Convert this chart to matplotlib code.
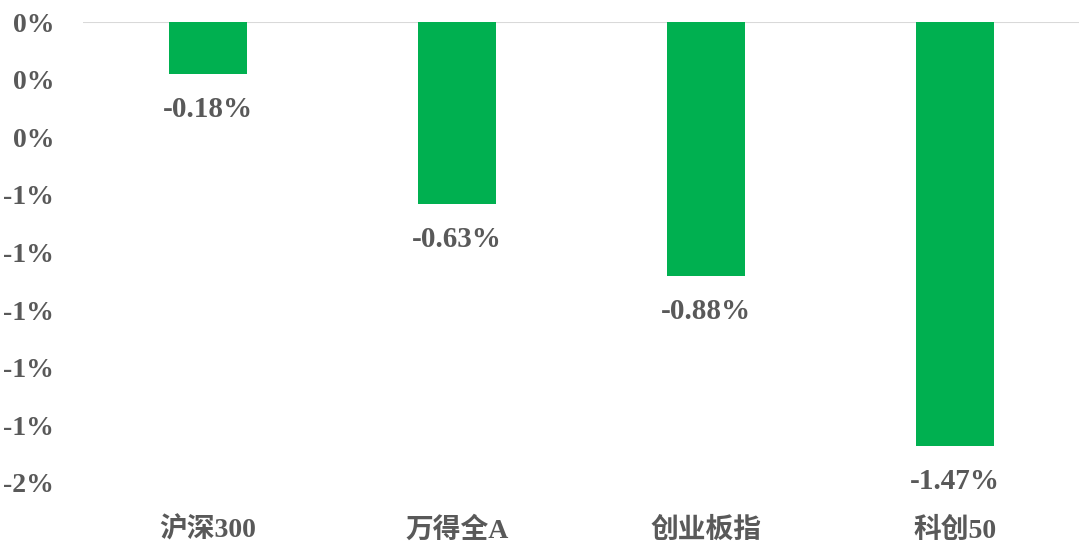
import matplotlib
matplotlib.use("Agg")
import matplotlib.pyplot as plt
from matplotlib.ticker import FuncFormatter

categories = ["沪深300", "万得全A", "创业板指", "科创50"]
values = [-0.18, -0.63, -0.88, -1.47]
yticks = [0, -0.2, -0.4, -0.6, -0.8, -1.0, -1.2, -1.4, -1.6]

FONT = ["Liberation Serif", "Noto Sans CJK SC"]
GRAY = "#595959"
GREEN = "#00B050"

plt.rcParams["font.family"] = FONT

fig = plt.figure(figsize=(10.8, 5.56), dpi=100)
ax = fig.add_axes([0.0773, 0.1313, 0.9222, 0.8291])

x = list(range(len(categories)))
ax.bar(x, values, width=0.31, color=GREEN, zorder=3)
ax.axhline(0, color="#D9D9D9", lw=1.5, zorder=2)

ax.set_xlim(-0.5, len(categories) - 0.5)
ax.set_ylim(-1.6, 0)
ax.set_yticks(yticks)
ax.yaxis.set_major_formatter(FuncFormatter(lambda v, p: "%d%%" % round(v) if round(v) != 0 else "0%"))
ax.set_xticks(x)
ax.set_xticklabels(categories)

for s in ax.spines.values():
    s.set_visible(False)
ax.tick_params(axis="both", length=0)
ax.tick_params(axis="y", pad=21, labelsize=20, labelcolor=GRAY)
ax.tick_params(axis="x", pad=25, labelsize=20, labelcolor=GRAY)
for lab in ax.get_xticklabels() + ax.get_yticklabels():
    lab.set_fontweight("bold")

for xi, v in zip(x, values):
    ax.annotate("%.2f%%" % v, (xi, v), xytext=(0, -26), textcoords="offset points",
                ha="center", va="center", fontsize=21, fontweight="bold", color=GRAY)

fig.savefig("out.png", dpi=100)
